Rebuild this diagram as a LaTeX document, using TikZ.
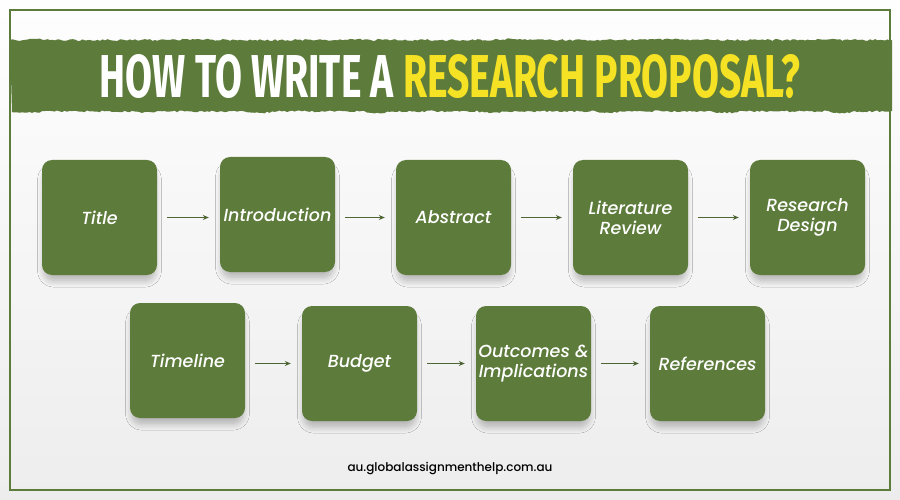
\documentclass[tikz,border=0pt]{standalone}
\usepackage{fontspec}
\usepackage{graphicx}
\setmainfont{Poppins}
\newfontfamily\boxfont{Poppins Medium Italic}
\newfontfamily\urlfont{Poppins Medium}
\newfontfamily\headfont{Fira Sans}
\usetikzlibrary{arrows.meta,shadows.blur}
\definecolor{olive}{HTML}{5D7B3B}
\definecolor{ttlyellow}{HTML}{F5E225}
\definecolor{paper}{HTML}{EDEDED}
\definecolor{arrowc}{HTML}{4E6536}
\tikzset{
  stepbox/.style={fill=olive, rounded corners=10pt, minimum width=115pt, minimum height=115pt,
    text=white, font=\boxfont\fontsize{17.5}{20}\selectfont, align=center, inner sep=2pt,
    blur shadow={shadow xshift=0pt, shadow yshift=-8pt, shadow scale=0.96, shadow blur radius=7pt, shadow blur steps=14, shadow opacity=28}},
  arr/.style={draw=arrowc, line width=1pt, -{Stealth[length=6pt,width=5pt]}, shorten <=10pt, shorten >=11pt}
}
\begin{document}
\begin{tikzpicture}[x=1pt,y=-1pt]
\useasboundingbox (0,0) rectangle (900,500);
\shade[top color=white!95!paper, bottom color=paper] (0,0) rectangle (900,500);
% banner with torn edges
\pgfmathsetseed{7}
\fill[olive] (10,40)
  \foreach \xx in {12.5,15,...,892} { -- (\xx,{40+1.8*rnd-0.9-max(0,2.5*sin(\xx*2.3)-1.8)}) }
  -- (892,40) -- (892,111)
  \foreach \xx in {889.5,887,...,10} { -- (\xx,{111+1.8*rnd-0.6+max(0,4*sin(\xx*3.1)-2.6)}) }
  -- cycle;
% frame
\draw[olive, line width=2pt] (10,10) rectangle (890,490);
\node (heading) at (450,76.5) {\resizebox{700pt}{43pt}{\headfont\bfseries\color{white}HOW TO WRITE A \color{ttlyellow}RESEARCH PROPOSAL?}};
% boxes
\node[stepbox] (title) at (99.5,217.5) {Title};
\node[stepbox] (intro) at (277.5,214.5) {Introduction};
\node[stepbox] (abstract) at (453.5,217.5) {Abstract};
\node[stepbox] (lit) at (630.5,217.5) {Literature\\Review};
\node[stepbox] (design) at (807.5,217.5) {Research\\Design};
\node[stepbox] (timeline) at (187.5,360.5) {Timeline};
\node[stepbox] (budget) at (359.5,363.5) {Budget};
\node[stepbox] (outcomes) at (533.5,363.5) {Outcomes \&\\Implications};
\node[stepbox] (refs) at (707.5,363.5) {References};
% arrows
\draw[arr] (title.east) -- (title.east -| intro.west);
\draw[arr] (intro.east |- abstract.west) -- (abstract.west);
\draw[arr] (abstract.east) -- (lit.west);
\draw[arr] (lit.east) -- (design.west);
\draw[arr] (timeline.east |- budget.west) -- (budget.west);
\draw[arr] (budget.east) -- (outcomes.west);
\draw[arr] (outcomes.east) -- (refs.west);
% url
\node[font=\urlfont\fontsize{12}{14}\selectfont, text=black] (url) at (450,469) {au.globalassignmenthelp.com.au};
\end{tikzpicture}
\end{document}
